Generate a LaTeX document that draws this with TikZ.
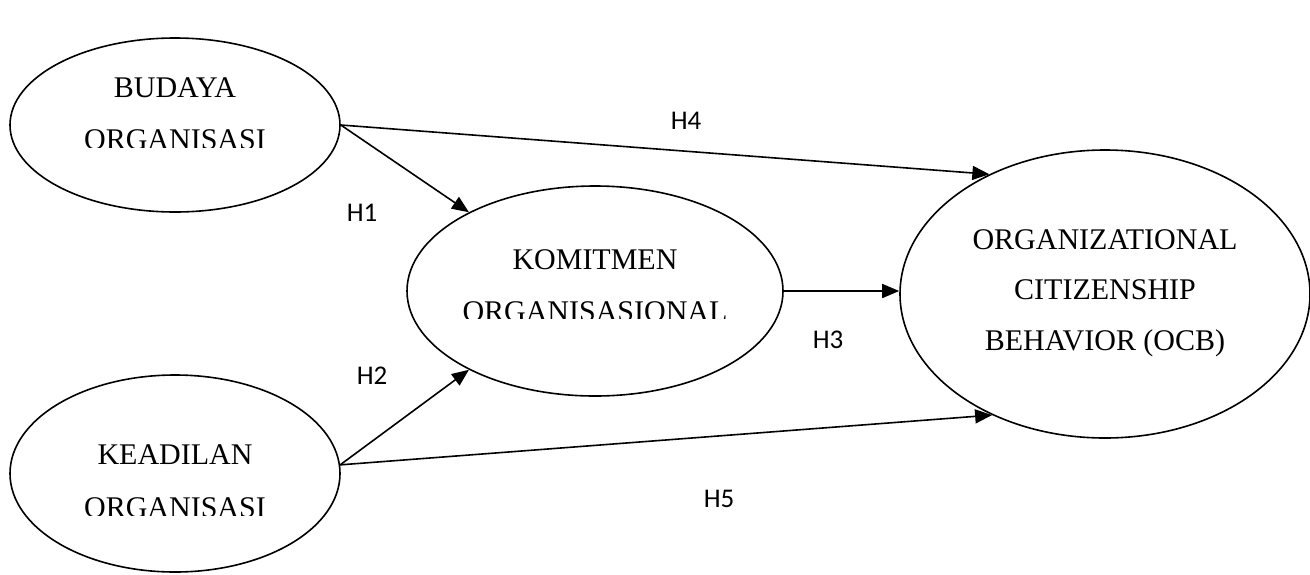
\documentclass[tikz,border=0pt]{standalone}
\usepackage{fontspec}
\setmainfont{Liberation Serif}
\newfontfamily\labelfont{Carlito}
\usetikzlibrary{shapes.geometric,arrows.meta}
\begin{document}
\begin{tikzpicture}[x=0.5pt,y=-0.5pt,
  construct/.style={draw,ellipse,line width=0.8pt,inner sep=0pt},
  caption/.style={font=\fontsize{15}{18}\selectfont,inner sep=0pt,anchor=base},
  hyp/.style={font=\labelfont\fontsize{13.5}{16}\selectfont,inner sep=0pt},
  path/.style={line width=0.8pt,-{Triangle[length=8.5pt,width=7pt]}}]
\useasboundingbox (0,0) rectangle (1310,574);

% latent constructs
\node[construct,minimum width=165pt,minimum height=87pt] (bud) at (175,125) {};
\node[construct,minimum width=165pt,minimum height=98.5pt] (kea) at (175,473.5) {};
\node[construct,minimum width=188pt,minimum height=105pt] (kom) at (595,291) {};
\node[construct,minimum width=205pt,minimum height=144pt] (ocb) at (1105,294) {};

% construct names (the last line of the three small ellipses is cut off)
\node[caption] (budA) at (175,97) {BUDAYA};
\begin{scope}
  \clip (0,110) rectangle (340,147);
  \node[caption] (budB) at (175,149) {ORGANISASI};
\end{scope}
\node[caption] (keaA) at (175,464) {KEADILAN};
\begin{scope}
  \clip (0,480) rectangle (340,515);
  \node[caption] (keaB) at (175,517) {ORGANISASI};
\end{scope}
\node[caption] (komA) at (595,269) {KOMITMEN};
\begin{scope}
  \clip (420,285) rectangle (770,318);
  \node[caption] (komB) at (595,321) {ORGANISASIONAL};
\end{scope}
\node[caption] (ocbA) at (1105,249) {ORGANIZATIONAL};
\node[caption] (ocbB) at (1105,299) {CITIZENSHIP};
\node[caption] (ocbC) at (1105,350) {BEHAVIOR (OCB)};

% hypothesised paths
\draw[path] (bud.east) -- (kom.148);
\draw[path] (bud.east) -- (ocb.134);
\draw[path] (kea.3) -- (kom.212);
\draw[path] (kea.3) -- (ocb.227);
\draw[path] (kom.east) -- (kom.east -| ocb.west);

% hypothesis labels
\node[hyp] (h1) at (362,213) {H1};
\node[hyp] (h2) at (372,376) {H2};
\node[hyp] (h3) at (828,340) {H3};
\node[hyp] (h4) at (686,121) {H4};
\node[hyp] (h5) at (719,499) {H5};
\end{tikzpicture}
\end{document}
